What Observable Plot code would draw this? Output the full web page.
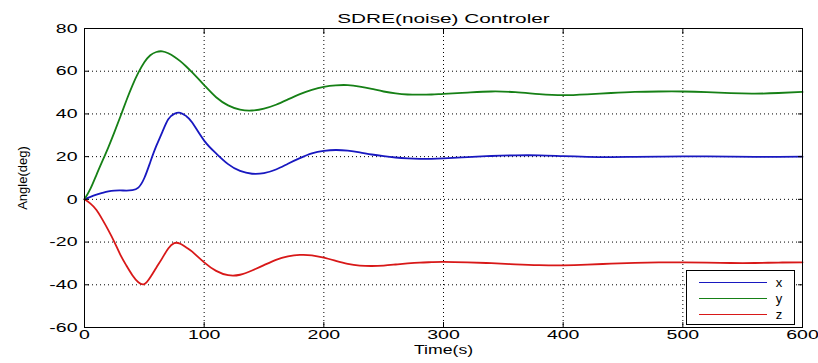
<!DOCTYPE html>
<html><head><meta charset="utf-8">
<script src="https://cdn.jsdelivr.net/npm/d3@7"></script>
<script src="https://cdn.jsdelivr.net/npm/@observablehq/plot@0.6"></script>
<style>
body{margin:0;background:#fff;}
#wrap{position:relative;width:818px;height:363px;}
#legend{position:absolute;left:686px;top:270px;width:107px;height:53px;border:1px solid #000;background:#fff;font-family:"Liberation Sans",Arial,sans-serif;font-size:13px;}
#legend svg{position:absolute;left:0;top:0;}
</style></head><body><div id="wrap"><div id="legend"></div></div>
<script>
const time = [0,5,10,15,20,25,30,35,40,45,50,55,60,65,70,75,80,85,90,100,110,120,130,140,150,160,170,180,190,200,210,220,230,240,250,260,270,280,290,300,320,340,360,380,400,420,440,460,480,500,520,540,560,580,600];
const xSeries = [0,1.2,2.2,3,3.7,4.1,4.2,4.1,4.3,5.5,10,17.5,25,31.5,37.5,40,40.5,39,36,27.5,21.5,16.5,13.3,12,12.3,14,16.7,19.3,21.5,22.7,23.1,22.8,22,21,20.2,19.6,19.2,19,19,19.2,19.8,20.3,20.6,20.6,20.2,19.9,19.8,19.9,20,20.1,20.1,20,19.9,19.9,20];
const ySeries = [0,5,11.5,18,24.5,31.5,38.8,46.3,53.3,59.3,64.2,67.5,69,69.3,68.4,66.8,64.7,62.2,59.4,53.5,47.8,44,42,41.6,42.5,44.3,46.8,49.3,51.3,52.7,53.4,53.5,52.8,51.7,50.5,49.6,49.1,49,49.1,49.4,50,50.5,50.2,49.3,48.8,49.2,49.8,50.3,50.5,50.5,50.2,49.7,49.5,49.8,50.3];
const zSeries = [0,-2,-5,-9.5,-14.5,-20,-26,-31,-35.5,-38.8,-39.7,-36.5,-32,-27.5,-23,-20.5,-20.8,-22.5,-24.5,-29.5,-33.5,-35.5,-35.3,-33.3,-30.8,-28.3,-26.7,-26,-26.2,-27.3,-28.8,-30.2,-31,-31.2,-31,-30.5,-30,-29.6,-29.4,-29.3,-29.5,-29.9,-30.4,-30.8,-30.9,-30.6,-30.1,-29.7,-29.5,-29.5,-29.6,-29.8,-29.8,-29.6,-29.5];
const seriesNames = ["x","y","z"];
const seriesColors = ["#1818c0","#168016","#d81818"];
const xTicks = [0,100,200,300,400,500,600];
const yTicks = [-60,-40,-20,0,20,40,60,80];
const title = "SDRE(noise) Controler";
const xLabel = "Time(s)";
const yLabel = "Angle(deg)";

const allSeries = [xSeries, ySeries, zSeries];
const rows = [];
seriesNames.forEach((name, i) => {
  time.forEach((t, j) => rows.push({t, v: allSeries[i][j], s: name}));
});
const fmt = d => String(d);

const chart = Plot.plot({
  width: 818, height: 363,
  marginLeft: 84, marginRight: 16, marginTop: 28, marginBottom: 36,
  style: {fontFamily: "'Liberation Sans', Arial, sans-serif", fontSize: "13px", background: "#fff", color: "#000"},
  x: {domain: [0, 600], label: null},
  y: {domain: [-60, 80], label: null},
  color: {domain: seriesNames, range: seriesColors},
  marks: [
    Plot.gridX(xTicks, {stroke: "#000", strokeOpacity: 1, strokeDasharray: "1,3"}),
    Plot.gridY(yTicks, {stroke: "#000", strokeOpacity: 1, strokeDasharray: "1,3"}),
    Plot.lineY(rows, {x: "t", y: "v", z: "s", stroke: "s", strokeWidth: 1.8, curve: "natural"}),
    Plot.frame({stroke: "#000"}),
    Plot.axisX(xTicks, {anchor: "bottom", tickSize: -5, tickPadding: 7, tickFormat: fmt, label: null}),
    Plot.axisX(xTicks, {anchor: "top", tickSize: -5, tickFormat: () => "", label: null}),
    Plot.axisY(yTicks, {anchor: "left", tickSize: -5, tickPadding: 12, tickFormat: fmt, label: null}),
    Plot.axisY(yTicks, {anchor: "right", tickSize: -5, tickFormat: () => "", label: null}),
    Plot.text([title], {frameAnchor: "top", dy: -15, fontSize: 13}),
    Plot.text([xLabel], {frameAnchor: "bottom", dy: 26, fontSize: 13}),
    Plot.text([yLabel], {frameAnchor: "left", dx: -62, rotate: -90, textAnchor: "middle", fontSize: 13})
  ]
});
document.getElementById("wrap").prepend(chart);

// stretch text horizontally like the reference (append a scale to Plot's own transform)
function stretch(t, k) {
  const tr = t.getAttribute("transform");
  if (tr) t.setAttribute("transform", tr + ` scale(${k},1)`);
  else {
    const x = +t.getAttribute("x") || 0, y = +t.getAttribute("y") || 0;
    t.setAttribute("transform", `translate(${x},${y}) scale(${k},1)`);
    t.setAttribute("x", 0); t.setAttribute("y", 0);
  }
}
chart.querySelectorAll('g[aria-label="y-axis tick label"] text').forEach(t => stretch(t, 1.5));
chart.querySelectorAll('g[aria-label="x-axis tick label"] text').forEach(t => stretch(t, 1.5));
chart.querySelectorAll('text').forEach(t => {
  if (t.textContent === title) stretch(t, 1.6);
  if (t.textContent === xLabel) stretch(t, 1.36);
});

// legend
const NS = "http://www.w3.org/2000/svg";
const lsvg = document.createElementNS(NS, "svg");
lsvg.setAttribute("width", 107); lsvg.setAttribute("height", 53);
seriesNames.forEach((name, i) => {
  const cy = 11 + i * 16;
  const ln = document.createElementNS(NS, "line");
  ln.setAttribute("x1", 12); ln.setAttribute("x2", 80);
  ln.setAttribute("y1", cy + 0.5); ln.setAttribute("y2", cy + 0.5);
  ln.setAttribute("stroke", seriesColors[i]); ln.setAttribute("stroke-width", 1);
  const tx = document.createElementNS(NS, "text");
  tx.setAttribute("x", 92); tx.setAttribute("y", cy + 4.5);
  tx.setAttribute("text-anchor", "middle");
  tx.setAttribute("font-family", "Liberation Sans, Arial, sans-serif");
  tx.setAttribute("font-size", 13);
  tx.textContent = name;
  lsvg.appendChild(ln); lsvg.appendChild(tx);
});
document.getElementById("legend").appendChild(lsvg);
</script></body></html>
